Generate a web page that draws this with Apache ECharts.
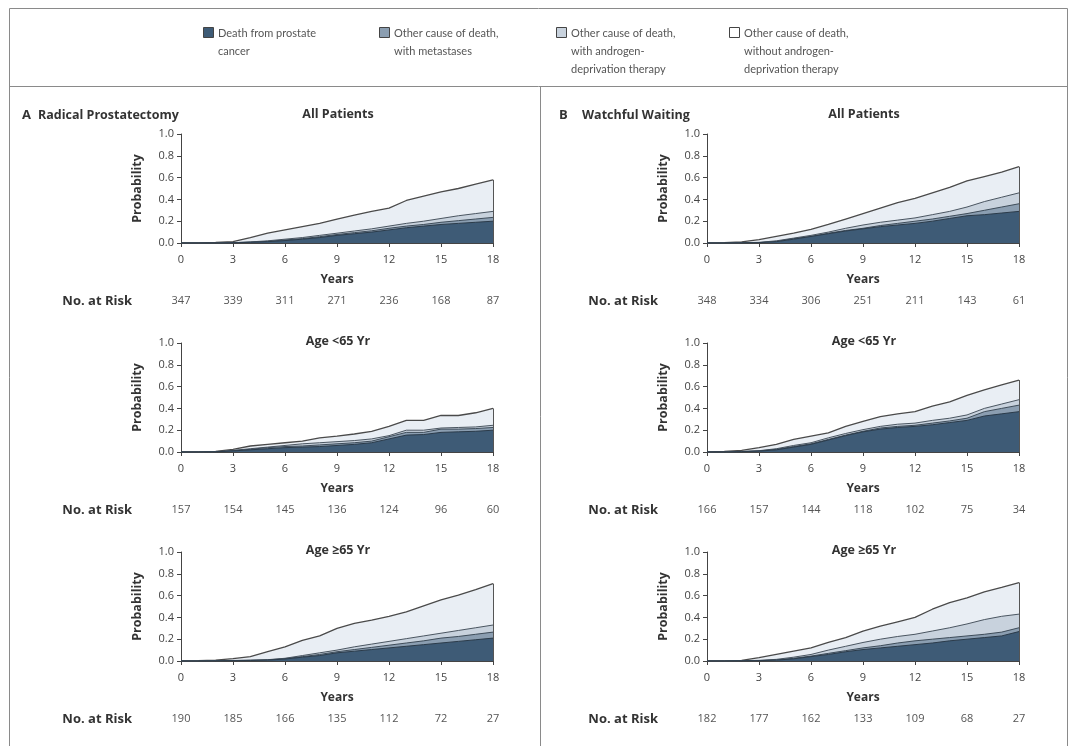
<!DOCTYPE html>
<html>
<head>
<meta charset="utf-8">
<script src="https://cdn.jsdelivr.net/npm/echarts@6/dist/echarts.min.js"></script>
<style>
html,body{margin:0;padding:0;background:#fff;}
#c{width:1076px;height:746px;}
</style>
</head>
<body>
<div id="c"></div>
<script>
// ---- data ----
const YEARS = [0,1,2,3,4,5,6,7,8,9,10,11,12,13,14,15,16,17,18];
const X_TICKS = [0,3,6,9,12,15,18];
const LAYER_NAMES = [
  'Death from prostate\ncancer',
  'Other cause of death,\nwith metastases',
  'Other cause of death,\nwith androgen-\ndeprivation therapy',
  'Other cause of death,\nwithout androgen-\ndeprivation therapy'
];
const PANEL_TITLES = ['All Patients','Age <65 Yr','Age \u226565 Yr'];

// cumulative probabilities (upper edge of each layer)
// A: Radical Prostatectomy - All Patients
const rpAllPca   = [0,0,0,0.002,0.006,0.012,0.022,0.035,0.05,0.07,0.085,0.1,0.12,0.14,0.155,0.17,0.18,0.19,0.2];
const rpAllMets  = [0,0,0,0.003,0.008,0.015,0.028,0.04,0.058,0.078,0.095,0.112,0.135,0.155,0.17,0.19,0.205,0.22,0.235];
const rpAllAdt   = [0,0,0,0.003,0.01,0.02,0.035,0.05,0.07,0.09,0.11,0.13,0.155,0.18,0.2,0.225,0.25,0.27,0.29];
const rpAllTotal = [0,0,0.005,0.012,0.05,0.09,0.12,0.15,0.18,0.22,0.255,0.29,0.32,0.39,0.43,0.47,0.5,0.54,0.58];
const rpAllRisk  = [347,339,311,271,236,168,87];
// A: Age <65
const rpYoungPca   = [0,0,0.002,0.01,0.02,0.03,0.04,0.045,0.05,0.06,0.07,0.085,0.12,0.155,0.16,0.18,0.185,0.19,0.2];
const rpYoungMets  = [0,0,0.002,0.012,0.025,0.04,0.05,0.055,0.065,0.075,0.085,0.1,0.14,0.18,0.18,0.21,0.21,0.215,0.225];
const rpYoungAdt   = [0,0,0.003,0.015,0.03,0.045,0.06,0.075,0.085,0.095,0.105,0.12,0.15,0.2,0.2,0.22,0.225,0.23,0.245];
const rpYoungTotal = [0,0,0.005,0.024,0.055,0.07,0.085,0.1,0.13,0.145,0.165,0.19,0.235,0.29,0.29,0.335,0.335,0.36,0.4];
const rpYoungRisk  = [157,154,145,136,124,96,60];
// A: Age >=65
const rpOldPca   = [0,0,0.002,0.003,0.005,0.008,0.018,0.035,0.05,0.075,0.09,0.105,0.12,0.135,0.15,0.165,0.18,0.195,0.21];
const rpOldMets  = [0,0,0.002,0.004,0.006,0.01,0.022,0.04,0.06,0.085,0.105,0.125,0.145,0.165,0.185,0.21,0.225,0.245,0.265];
const rpOldAdt   = [0,0,0.003,0.005,0.008,0.012,0.025,0.05,0.075,0.1,0.13,0.155,0.18,0.205,0.23,0.255,0.28,0.305,0.33];
const rpOldTotal = [0,0.003,0.008,0.022,0.04,0.085,0.13,0.19,0.23,0.3,0.345,0.375,0.41,0.45,0.505,0.56,0.605,0.655,0.71];
const rpOldRisk  = [190,185,166,135,112,72,27];
// B: Watchful Waiting - All Patients
const wwAllPca   = [0,0,0.002,0.003,0.012,0.035,0.06,0.085,0.11,0.13,0.15,0.165,0.18,0.2,0.225,0.25,0.26,0.275,0.29];
const wwAllMets  = [0,0,0.002,0.004,0.015,0.04,0.06,0.09,0.115,0.135,0.16,0.18,0.2,0.22,0.245,0.27,0.3,0.33,0.36];
const wwAllAdt   = [0,0,0.003,0.006,0.02,0.045,0.07,0.1,0.135,0.165,0.19,0.21,0.23,0.26,0.29,0.33,0.38,0.42,0.46];
const wwAllTotal = [0,0.003,0.01,0.03,0.06,0.09,0.125,0.17,0.22,0.27,0.32,0.37,0.41,0.46,0.51,0.57,0.61,0.65,0.7];
const wwAllRisk  = [348,334,306,251,211,143,61];
// B: Age <65
const wwYoungPca   = [0,0,0.003,0.008,0.02,0.045,0.07,0.11,0.15,0.185,0.21,0.225,0.235,0.25,0.27,0.29,0.33,0.35,0.37];
const wwYoungMets  = [0,0,0.004,0.01,0.025,0.05,0.075,0.115,0.155,0.19,0.22,0.235,0.245,0.265,0.285,0.31,0.37,0.4,0.43];
const wwYoungAdt   = [0,0,0.005,0.012,0.03,0.06,0.085,0.13,0.17,0.205,0.235,0.255,0.265,0.29,0.31,0.34,0.4,0.44,0.48];
const wwYoungTotal = [0,0.005,0.015,0.04,0.07,0.115,0.145,0.175,0.235,0.28,0.325,0.35,0.37,0.42,0.46,0.52,0.57,0.615,0.66];
const wwYoungRisk  = [166,157,144,118,102,75,34];
// B: Age >=65
const wwOldPca   = [0,0,0.002,0.003,0.008,0.02,0.04,0.06,0.085,0.105,0.12,0.135,0.15,0.165,0.185,0.2,0.215,0.23,0.27];
const wwOldMets  = [0,0,0.002,0.004,0.01,0.025,0.045,0.07,0.095,0.12,0.14,0.165,0.185,0.2,0.215,0.23,0.245,0.265,0.305];
const wwOldAdt   = [0,0,0.003,0.006,0.015,0.035,0.06,0.1,0.135,0.17,0.2,0.225,0.245,0.275,0.305,0.34,0.38,0.41,0.43];
const wwOldTotal = [0,0,0.005,0.03,0.06,0.09,0.12,0.17,0.215,0.275,0.32,0.36,0.4,0.475,0.535,0.58,0.635,0.675,0.72];
const wwOldRisk  = [182,177,162,133,109,68,27];

// ---- styling / layout ----
const FONT = '"Open Sans", Lato, sans-serif';
const FILLS = ['#3e5b76', '#8b9eb1', '#c8d2dd', '#e9eef4'];
const EDGE = ['#2b3b4a', '#3e4c59', '#4a5560', '#4a4a4a'];
const TEXT = '#333';

const panels = [
  {left:181, top:134, h:109, tGap:31, title:PANEL_TITLES[0], layers:[rpAllPca,rpAllMets,rpAllAdt,rpAllTotal], risk:rpAllRisk},
  {left:181, top:343, h:109, tGap:13, title:PANEL_TITLES[1], layers:[rpYoungPca,rpYoungMets,rpYoungAdt,rpYoungTotal], risk:rpYoungRisk},
  {left:181, top:552, h:109, tGap:13, title:PANEL_TITLES[2], layers:[rpOldPca,rpOldMets,rpOldAdt,rpOldTotal], risk:rpOldRisk},
  {left:707, top:134, h:109, tGap:31, title:PANEL_TITLES[0], layers:[wwAllPca,wwAllMets,wwAllAdt,wwAllTotal], risk:wwAllRisk},
  {left:707, top:343, h:109, tGap:13, title:PANEL_TITLES[1], layers:[wwYoungPca,wwYoungMets,wwYoungAdt,wwYoungTotal], risk:wwYoungRisk},
  {left:707, top:552, h:109, tGap:13, title:PANEL_TITLES[2], layers:[wwOldPca,wwOldMets,wwOldAdt,wwOldTotal], risk:wwOldRisk}
];
const GRID_W = 312;

const grid = [], xAxis = [], yAxis = [], series = [], title = [];
panels.forEach((p, gi) => {
  grid.push({left:p.left, top:p.top, width:GRID_W, height:p.h, containLabel:false});
  xAxis.push({
    type:'value', gridIndex:gi, min:0, max:18, interval:3, position:'bottom',
    axisLine:{show:true, lineStyle:{color:'#444', width:1}},
    axisTick:{show:true, inside:false, length:4, lineStyle:{color:'#444'}},
    splitLine:{show:false},
    axisLabel:{fontFamily:FONT, fontSize:11, color:'#444', margin:11},
    name:'Years', nameLocation:'middle', nameGap:31,
    nameTextStyle:{fontFamily:FONT, fontSize:12, fontWeight:'bold', color:TEXT}
  });
  const risk = p.risk;
  xAxis.push({
    type:'value', gridIndex:gi, min:0, max:18, interval:3, position:'bottom', offset:58,
    axisLine:{show:false}, axisTick:{show:false}, splitLine:{show:false},
    axisLabel:{fontFamily:FONT, fontSize:11, color:'#555', margin:-6,
      formatter:v => { const i = X_TICKS.indexOf(v); return i >= 0 ? String(risk[i]) : ''; }},
    name:'No. at Risk', nameLocation:'start', nameGap:49,
    nameTextStyle:{fontFamily:FONT, fontSize:13, fontWeight:'bold', color:TEXT}
  });
  yAxis.push({
    type:'value', gridIndex:gi, min:0, max:1, interval:0.2,
    axisLine:{show:true, lineStyle:{color:'#444', width:1}},
    axisTick:{show:true, inside:false, length:4, lineStyle:{color:'#444'}},
    splitLine:{show:false},
    axisLabel:{fontFamily:FONT, fontSize:11, color:'#444', margin:7, formatter:v => v.toFixed(1)},
    name:'Probability', nameLocation:'middle', nameGap:37, nameRotate:90,
    nameTextStyle:{fontFamily:FONT, fontSize:12.5, fontWeight:'bold', color:TEXT}
  });
  title.push({
    text:p.title, left:p.left + GRID_W/2 - 4, top:p.top - p.tGap, textAlign:'center',
    textStyle:{fontFamily:FONT, fontSize:12.5, fontWeight:'bold', color:TEXT}
  });
  // draw from the outermost (top) layer down so the inner layers sit in front
  for (let li = 3; li >= 0; li--) {
    const vals = p.layers[li];
    const s = {
      type:'line', name:LAYER_NAMES[li], xAxisIndex:gi*2, yAxisIndex:gi,
      data:YEARS.map((yr, k) => [yr, vals[k]]),
      symbol:'none', silent:true, animation:false,
      lineStyle:{color:EDGE[li], width:li === 3 ? 1.3 : 1},
      areaStyle:{color:FILLS[li], opacity:1, origin:0},
      z:2 + (3 - li)
    };
    if (li === 3) {
      const lastX = YEARS[YEARS.length - 1];
      s.markLine = {
        silent:true, symbol:'none', label:{show:false}, animation:false,
        lineStyle:{color:'#555', width:1, type:'solid'},
        data:[[{coord:[lastX, 0]}, {coord:[lastX, vals[vals.length - 1]]}]]
      };
    }
    series.push(s);
  }
});

// panel headers
title.push({text:'A', left:17, top:104, textStyle:{fontFamily:FONT, fontSize:13, fontWeight:'bold', color:TEXT}});
title.push({text:'Radical Prostatectomy', left:33, top:104, textStyle:{fontFamily:FONT, fontSize:12.5, fontWeight:'bold', color:TEXT}});
title.push({text:'B', left:554, top:104, textStyle:{fontFamily:FONT, fontSize:13, fontWeight:'bold', color:TEXT}});
title.push({text:'Watchful Waiting', left:577, top:104, textStyle:{fontFamily:FONT, fontSize:12.5, fontWeight:'bold', color:TEXT}});

// legend + frame as graphics
const legendX = [203, 379, 556, 729];
const graphic = [];
graphic.push({type:'rect', shape:{x:9.5, y:8.5, width:1058, height:760}, style:{fill:null, stroke:'#8a8a8a', lineWidth:1}, silent:true});
graphic.push({type:'line', shape:{x1:9.5, y1:86.5, x2:1067.5, y2:86.5}, style:{stroke:'#8a8a8a', lineWidth:1}, silent:true});
graphic.push({type:'line', shape:{x1:540.5, y1:86.5, x2:540.5, y2:746}, style:{stroke:'#8a8a8a', lineWidth:1}, silent:true});
LAYER_NAMES.forEach((nm, i) => {
  graphic.push({type:'rect', shape:{x:legendX[i] + 0.5, y:27.5, width:10, height:10},
    style:{fill:i === 3 ? '#ffffff' : FILLS[i], stroke:'#444', lineWidth:1}, silent:true});
  graphic.push({type:'text', x:legendX[i] + 15, y:24,
    style:{text:nm, fontFamily:'Lato, sans-serif', fontSize:11, fill:'#555', lineHeight:18, textVerticalAlign:'top'}, silent:true});
});

const chart = echarts.init(document.getElementById('c'), null, {renderer:'canvas', width:1076, height:746});
chart.setOption({
  animation:false,
  backgroundColor:'#ffffff',
  title, grid, xAxis, yAxis, series, graphic
});
</script>
</body>
</html>
